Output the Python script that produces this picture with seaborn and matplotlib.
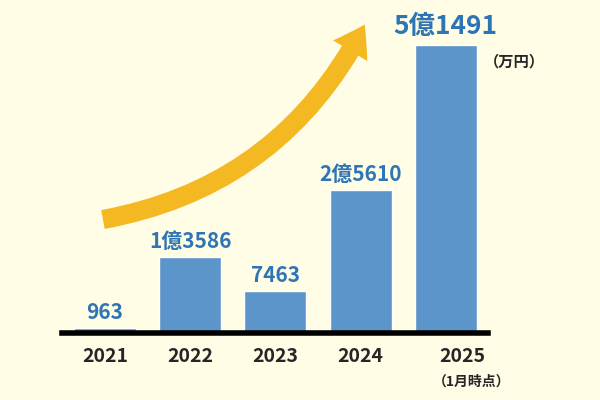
import matplotlib
matplotlib.use("Agg")
import matplotlib.pyplot as plt
import seaborn as sns
from matplotlib.patches import FancyArrowPatch

years = ["2021", "2022", "2023", "2024", "2025"]
values = [963, 13586, 7463, 25610, 51491]
labels = ["963", "1億3586", "7463", "2億5610", "5億1491"]

sns.set_style("white")
plt.rcParams['font.family'] = ['Noto Sans CJK JP', 'DejaVu Sans']
bg = "#FFFDE6"
fig = plt.figure(figsize=(6, 4), dpi=100, facecolor=bg)
ax = fig.add_axes([0.104, 0.1675, 0.71, 0.72])
ax.set_facecolor(bg)
sns.barplot(x=years, y=values, color="#5B95C9", saturation=1, width=0.73, ax=ax)
ax.set_xlim(-0.5, 4.5)
ax.set_ylim(0, 51491)
for s in ["top", "right", "left"]:
    ax.spines[s].set_visible(False)
ax.spines["bottom"].set_linewidth(4)
ax.spines["bottom"].set_color("black")
ax.set_yticks([])
ax.set_xticklabels([])
ax.tick_params(axis="x", length=0)
for i, y in enumerate(years):
    xo = 0.2 if i == 4 else 0
    ax.text(i + xo, -4200, y, ha="center", va="center", fontsize=14, fontweight="bold", clip_on=False)
for i, (v, l) in enumerate(zip(values, labels)):
    fs = 19 if i == 4 else 15
    ax.text(i, v + 900, l, ha="center", va="bottom", fontsize=fs, fontweight="semibold",
            color="#2E75B6", clip_on=False)
ax.text(4.45, 51491 - 1500, "（万円）", ha="left", va="top", fontsize=11, fontweight="bold", clip_on=False)
fig.text(472/600, 1 - 382/400, "（1月時点）", ha="center", va="center", fontsize=10, fontweight="bold")

arr = FancyArrowPatch((0.167, 0.45), (0.61, 0.945), transform=fig.transFigure,
                      connectionstyle="arc3,rad=0.25", arrowstyle="simple,head_width=2.4,head_length=1.8,tail_width=1.15",
                      mutation_scale=12, color="#F4B922", lw=0)
fig.patches.append(arr)
fig.savefig("out.png", dpi=100, facecolor=bg)
